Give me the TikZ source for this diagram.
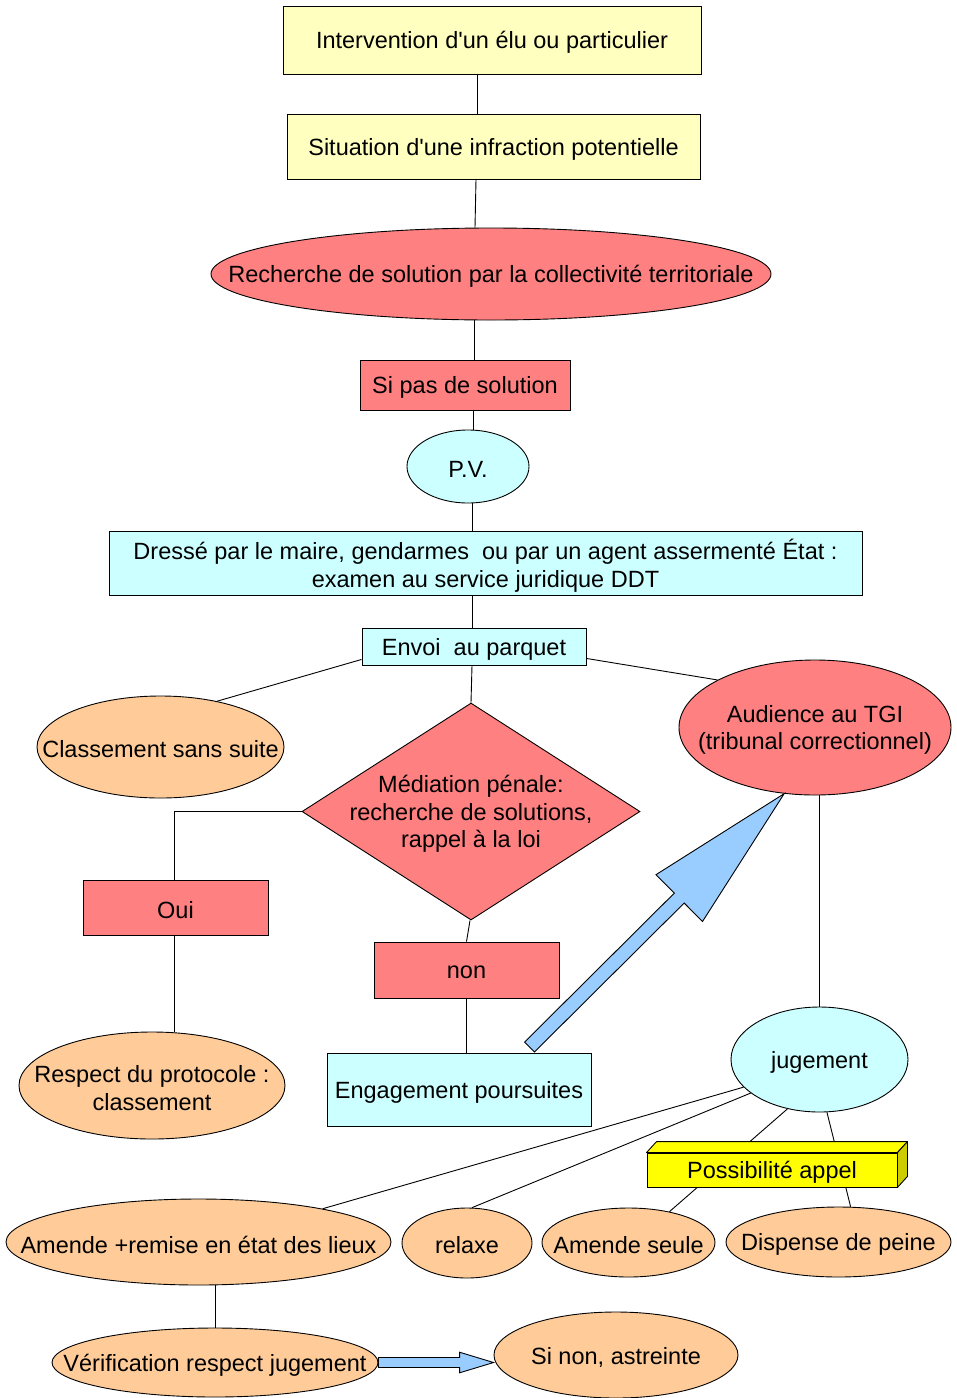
\documentclass[tikz,border=0pt]{standalone}
\usepackage{fontspec}
\setmainfont{Liberation Sans}
\usetikzlibrary{shapes.geometric,calc}
\definecolor{cyellow}{HTML}{FFFFC0}
\definecolor{csalmon}{HTML}{FF8080}
\definecolor{ccyan}{HTML}{CCFFFF}
\definecolor{corange}{HTML}{FFCC99}
\definecolor{cblue}{HTML}{99CCFF}
\definecolor{cyel}{HTML}{FFFF00}
\definecolor{cyelside}{HTML}{CCCC00}
\newcommand{\blockarrow}[5]{%
  \coordinate (bahead) at ($(#2)!#5!(#1)$);
  \filldraw[fatarrow] ($(#1)!#3!90:(#2)$) -- ($(bahead)!#3!90:(#2)$) -- ($(bahead)!#4!90:(#2)$) -- (#2)
    -- ($(bahead)!#4!-90:(#2)$) -- ($(bahead)!#3!-90:(#2)$) -- ($(#1)!#3!-90:(#2)$) -- cycle;}
\begin{document}
\begin{tikzpicture}[x=1pt, y=-1pt,
  every node/.style={font=\fontsize{23.5}{27.5}\selectfont},
  box/.style={rectangle, draw, inner sep=0pt, line width=0.9pt},
  ell/.style={ellipse, draw, inner sep=0pt, line width=0.9pt},
  etext/.style={label={[align=center, inner sep=0pt, yshift=-2.5pt]center:#1}},
  conn/.style={draw, line width=0.9pt},
  fatarrow/.style={fill=cblue, draw, line width=0.9pt, line join=miter}]
\useasboundingbox (0,0) rectangle (957,1398);

\node[box, fill=cyellow, minimum width=418, minimum height=68, etext={Intervention d\textquotesingle un élu ou particulier}] (n1) at (492,40) {};
\node[box, fill=cyellow, minimum width=413, minimum height=65, etext={Situation d\textquotesingle une infraction potentielle}] (n2) at (493.5,146.5) {};
\node[ell, fill=csalmon, minimum width=560, minimum height=92, etext={Recherche de solution par la collectivité territoriale}] (rech) at (491,274) {};
\node[box, fill=csalmon, minimum width=210, minimum height=50, etext={Si pas de solution}] (spas) at (465,385) {};
\node[ell, fill=ccyan, minimum width=122, minimum height=73, etext={P.V.}] (pv) at (468,466.5) {};
\node[box, fill=ccyan, minimum width=753, minimum height=64, etext={Dressé par le maire, gendarmes\ \ ou par un agent assermenté État :\\examen au service juridique DDT}] (dresse) at (485.5,563) {};
\node[box, fill=ccyan, minimum width=224, minimum height=37, etext={Envoi\ \ au parquet}] (envoi) at (474,646.5) {};
\node[ell, fill=corange, minimum width=247, minimum height=102, etext={Classement sans suite}] (css) at (160.5,747) {};
\node[ell, fill=csalmon, minimum width=272, minimum height=135, etext={Audience au TGI\\(tribunal correctionnel)}] (aud) at (815,727.5) {};
\node[diamond, draw, fill=csalmon, line width=0.9pt, minimum width=338, minimum height=217, inner sep=0pt, etext={Médiation pénale:\\recherche de solutions,\\rappel à la loi}] (med) at (471,811.5) {};
\node[box, fill=csalmon, minimum width=185, minimum height=55, etext={Oui}] (oui) at (175.5,907.5) {};
\node[ell, fill=corange, minimum width=266, minimum height=107, etext={Respect du protocole :\\classement}] (resp) at (152,1085.5) {};
\node[box, fill=csalmon, minimum width=185, minimum height=56, etext={non}] (non) at (466.5,970) {};
\node[box, fill=ccyan, minimum width=264, minimum height=73, etext={Engagement poursuites}] (eng) at (459,1089.5) {};
\node[ell, fill=ccyan, minimum width=177, minimum height=105, etext={jugement}] (jug) at (819.5,1059.5) {};
\node[ell, fill=corange, minimum width=385, minimum height=86, etext={Amende +remise en état des lieux}] (amr) at (198.5,1242) {};
\node[ell, fill=corange, minimum width=130, minimum height=70, etext={relaxe}] (rel) at (467,1243) {};
\node[ell, fill=corange, minimum width=173, minimum height=69, etext={Amende seule}] (amse) at (628.5,1242.5) {};
\node[ell, fill=corange, minimum width=225, minimum height=70, etext={Dispense de peine}] (disp) at (838.5,1242) {};
\node[ell, fill=corange, minimum width=326, minimum height=69, etext={Vérification respect jugement}] (verif) at (215,1362.5) {};
\node[ell, fill=corange, minimum width=244, minimum height=86, etext={Si non, astreinte}] (astr) at (616,1355) {};

\draw[conn] ($(n1.south)+(-15,0)$) -- ($(n2.north)+(-16.5,0)$);
\draw[conn] ($(n2.south)+(-17.5,0)$) -- ($(rech.north)+(-16,0)$);
\draw[conn] ($(rech.south)+(-17,0)$) -- ($(spas.north)+(9,0)$);
\draw[conn] ($(spas.south)+(8,0)$) -- ($(pv.north)+(5,0)$);
\draw[conn] ($(pv.south)+(4,0)$) -- ($(dresse.north)+(-13.5,0)$);
\draw[conn] ($(dresse.south)+(-13.5,0)$) -- ($(envoi.north)+(-2,0)$);
\draw[conn] ($(envoi.south west)+(0,-6)$) -- (css.39);
\draw[conn] ($(envoi.south east)+(0,-7)$) -- (aud.154);
\draw[conn] ($(envoi.south)+(-2,0)$) -- (med.north);
\draw[conn] (med.west) -| ($(oui.north)+(-1.5,0)$);
\draw[conn] ($(oui.south)+(-1.5,0)$) -- ($(oui.south |- resp.north)+(-1.5,0)$);
\draw[conn] ($(med.south)+(-1,0)$) -- (non.north);
\draw[conn] (non.south) -- (non.south |- eng.north);
\draw[conn] (aud.south -| jug.north) -- (jug.north);
\draw[conn] (jug.200) -- (amr.15);
\draw[conn] (jug.206) -- (rel.82);
\draw[conn] (jug.237) -- (amse.37);
\draw[conn] (jug.278) -- (disp.71);
\draw[conn] (amr.south -| verif.north) -- (verif.north);

\node[box, fill=cyel, minimum width=250, minimum height=34, etext={Possibilité appel}] (appel) at (772,1170) {};
\filldraw[fill=cyel, line width=0.9pt, line join=round] (appel.north west) -- ++(10,-11) -- ($(appel.north east)+(10,-11)$) -- (appel.north east) -- cycle;
\filldraw[fill=cyelside, line width=0.9pt, line join=round] (appel.north east) -- ++(10,-11) -- ($(appel.south east)+(10,-11)$) -- (appel.south east) -- cycle;

\coordinate (a1tail) at ($(eng.north)+(70.5,-5.5)$);
\coordinate (a1tip) at (aud.245);
\blockarrow{a1tail}{a1tip}{7pt}{33pt}{148pt}
\coordinate (a2tip) at (verif.east -| astr.west);
\blockarrow{verif.east}{a2tip}{5pt}{10.3pt}{34pt}
\end{tikzpicture}
\end{document}
